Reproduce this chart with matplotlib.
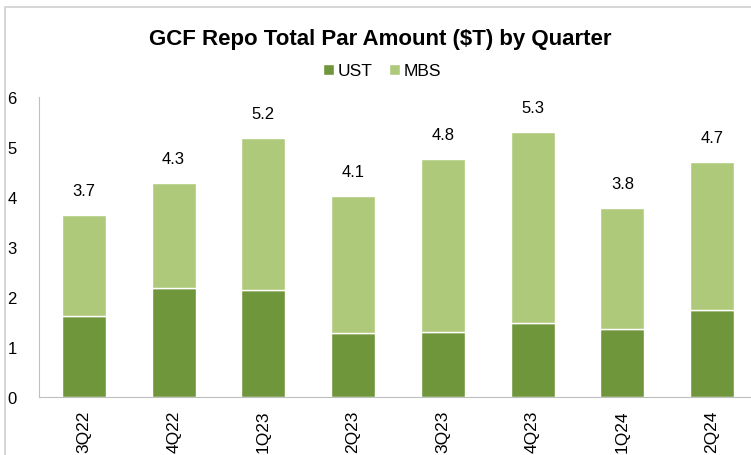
import numpy as np
import matplotlib.pyplot as plt
from matplotlib.patches import Rectangle

plt.rcParams['font.family'] = ['Liberation Sans', 'DejaVu Sans']

quarters = ['3Q22', '4Q22', '1Q23', '2Q23', '3Q23', '4Q23', '1Q24', '2Q24']
ust = [1.62, 2.18, 2.14, 1.28, 1.30, 1.48, 1.36, 1.74]
mbs = [2.02, 2.10, 3.04, 2.74, 3.46, 3.82, 2.42, 2.96]
totals = ['3.7', '4.3', '5.2', '4.1', '4.8', '5.3', '3.8', '4.7']

c_ust = '#70963C'
c_mbs = '#AFC97A'

fig = plt.figure(figsize=(7.51, 4.56), dpi=100)
fig.patches.append(Rectangle((5/751, -0.1), 1.2, 1 - 8/456 + 0.1, transform=fig.transFigure,
                             fill=False, ec='#D0D0D0', lw=1.2))
ax = fig.add_axes([39/751, 1 - 398/456, (757 - 39)/751, 300/456])

x = np.arange(len(quarters))
ust = np.array(ust)
mbs = np.array(mbs)
ax.bar(x, ust, width=0.49, color=c_ust, ec='white', lw=1, label='UST')
ax.bar(x, mbs, width=0.49, bottom=ust, color=c_mbs, ec='white', lw=1, label='MBS')
for xi, top, t in zip(x, ust + mbs, totals):
    ax.annotate(t, (xi, top), xytext=(0, 17), textcoords='offset pixels',
                ha='center', va='bottom', fontsize=12)

ax.set_xlim(-0.5, 7.5)
ax.set_ylim(0, 6)
ax.set_yticks(range(7))
ax.set_xticks(x)
ax.set_xticklabels(quarters, rotation=90, fontsize=12.5, va='top')
ax.tick_params(length=0, labelsize=12)
ax.tick_params(axis='y', pad=16)
ax.tick_params(axis='x', pad=9, labelsize=12.5)
for s in ['top', 'right']:
    ax.spines[s].set_visible(False)
ax.spines['left'].set_color('#BFBFBF')
ax.spines['bottom'].set_color('#BFBFBF')

fig.text(380/751, 1 - 40/456, 'GCF Repo Total Par Amount ($T) by Quarter',
         ha='center', va='center', fontsize=16, fontweight='bold')
fig.legend(loc='center', bbox_to_anchor=(382/751, 1 - 72/456), ncol=2, frameon=False,
           fontsize=12.5, handlelength=0.6, handleheight=0.6, handletextpad=0.2,
           columnspacing=1.0)

fig.savefig('out.png', dpi=100)
